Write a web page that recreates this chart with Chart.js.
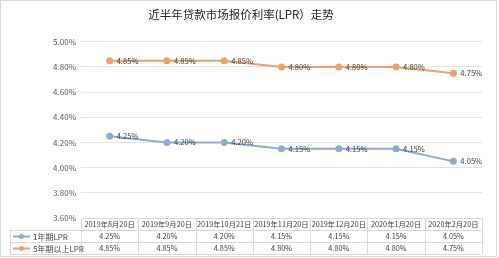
<!DOCTYPE html>
<html lang="zh">
<head>
  <meta charset="UTF-8">
  <title>LPR 走势</title>
  <script src="https://cdn.jsdelivr.net/npm/chart.js"></script>
  <style>
    body { margin: 0; background: #fff; }
    canvas { display: block; }
  </style>
</head>
<body>
  <canvas id="lpr-chart" width="499" height="258"></canvas>
  <script>
    // data
    const categories = ['2019年8月20日', '2019年9月20日', '2019年10月21日', '2019年11月20日', '2019年12月20日', '2020年1月20日', '2020年2月20日'];
    const lpr1y = [4.25, 4.20, 4.20, 4.15, 4.15, 4.15, 4.05];
    const lpr5y = [4.85, 4.85, 4.85, 4.80, 4.80, 4.80, 4.75];
    const seriesNames = ['1年期LPR', '5年期以上LPR'];
    const yTicks = [3.6, 3.8, 4.0, 4.2, 4.4, 4.6, 4.8, 5.0];

    const FONT = '"Noto Sans CJK SC", "Noto Sans", sans-serif';
    const blue = '#8eabd3';
    const orange = '#f0a06a';
    const pct = v => v.toFixed(2) + '%';

    // data labels + excel style data table under the plot
    const tablePlugin = {
      id: 'dataTable',
      afterDraw(chart) {
        const ctx = chart.ctx;
        const area = chart.chartArea;
        const xs = chart.scales.x;
        const n = categories.length;
        const colW = (area.right - area.left) / n;
        const legendLeft = 10;
        const rowH = 12;
        const top = area.bottom;

        ctx.save();
        // point labels
        ctx.font = '7.6px ' + FONT;
        ctx.fillStyle = '#404040';
        ctx.textAlign = 'left';
        ctx.textBaseline = 'middle';
        chart.data.datasets.forEach((ds, i) => {
          chart.getDatasetMeta(i).data.forEach((pt, j) => {
            ctx.fillText(pct(ds.data[j]), pt.x + 7, pt.y);
          });
        });

        // table lines
        ctx.strokeStyle = '#d9d9d9';
        ctx.lineWidth = 1;
        ctx.beginPath();
        ctx.moveTo(area.left, top + 0.5);
        ctx.lineTo(area.right, top + 0.5);
        for (let r = 1; r <= 3; r++) {
          const y = Math.round(top + r * rowH) + 0.5;
          ctx.moveTo(legendLeft, y);
          ctx.lineTo(area.right, y);
        }
        ctx.moveTo(legendLeft + 0.5, top + rowH);
        ctx.lineTo(legendLeft + 0.5, top + 3 * rowH);
        for (let k = 0; k <= n; k++) {
          const x = Math.round(area.left + k * colW) + 0.5;
          ctx.moveTo(x, top);
          ctx.lineTo(x, top + 3 * rowH);
        }
        ctx.stroke();

        // header + values
        ctx.font = '7.3px ' + FONT;
        ctx.fillStyle = '#404040';
        ctx.textAlign = 'center';
        categories.forEach((c, j) => {
          const cx = xs.getPixelForValue(j);
          ctx.fillText(c, cx, top + rowH * 0.5 + 0.5);
          ctx.fillText(pct(lpr1y[j]), cx, top + rowH * 1.5 + 0.5);
          ctx.fillText(pct(lpr5y[j]), cx, top + rowH * 2.5 + 0.5);
        });

        // legend keys in the left column
        ctx.font = '8px ' + FONT;
        [blue, orange].forEach((col, i) => {
          const y = top + rowH * (1.5 + i) + 0.5;
          ctx.strokeStyle = col;
          ctx.lineWidth = 2;
          ctx.beginPath();
          ctx.moveTo(13, y);
          ctx.lineTo(30, y);
          ctx.stroke();
          ctx.fillStyle = col;
          ctx.beginPath();
          ctx.arc(21.5, y, 2.5, 0, Math.PI * 2);
          ctx.fill();
          ctx.fillStyle = '#404040';
          ctx.textAlign = 'left';
          ctx.fillText(seriesNames[i], 33, y);
        });

        // outer frame
        ctx.strokeStyle = '#d9d9d9';
        ctx.lineWidth = 1;
        ctx.strokeRect(0.5, 0.5, 496, 256);
        ctx.restore();
      }
    };

    new Chart(document.getElementById('lpr-chart'), {
      type: 'line',
      data: {
        labels: categories,
        datasets: [
          {
            label: seriesNames[0],
            data: lpr1y,
            borderColor: blue,
            backgroundColor: blue,
            borderWidth: 2,
            pointRadius: 2.5,
            tension: 0
          },
          {
            label: seriesNames[1],
            data: lpr5y,
            borderColor: orange,
            backgroundColor: orange,
            borderWidth: 2,
            pointRadius: 2.5,
            tension: 0
          }
        ]
      },
      options: {
        responsive: false,
        animation: false,
        layout: { padding: { left: 0, right: 17, top: 0, bottom: 40 } },
        plugins: {
          legend: { display: false },
          tooltip: { enabled: false },
          title: {
            display: true,
            text: '近半年贷款市场报价利率(LPR）走势',
            color: '#222',
            font: { family: FONT, size: 11.5, weight: 'normal' },
            padding: { top: 8, bottom: 20 }
          }
        },
        scales: {
          x: {
            display: false,
            offset: true
          },
          y: {
            min: 3.6,
            max: 5.0,
            afterFit(scale) { scale.width = 81; },
            afterBuildTicks(scale) { scale.ticks = yTicks.map(v => ({ value: v })); },
            grid: { color: '#e3e3e3', drawTicks: false },
            border: { display: false },
            ticks: {
              padding: 5,
              color: '#595959',
              font: { family: FONT, size: 8 },
              callback: v => pct(v)
            }
          }
        }
      },
      plugins: [tablePlugin]
    });
  </script>
</body>
</html>
